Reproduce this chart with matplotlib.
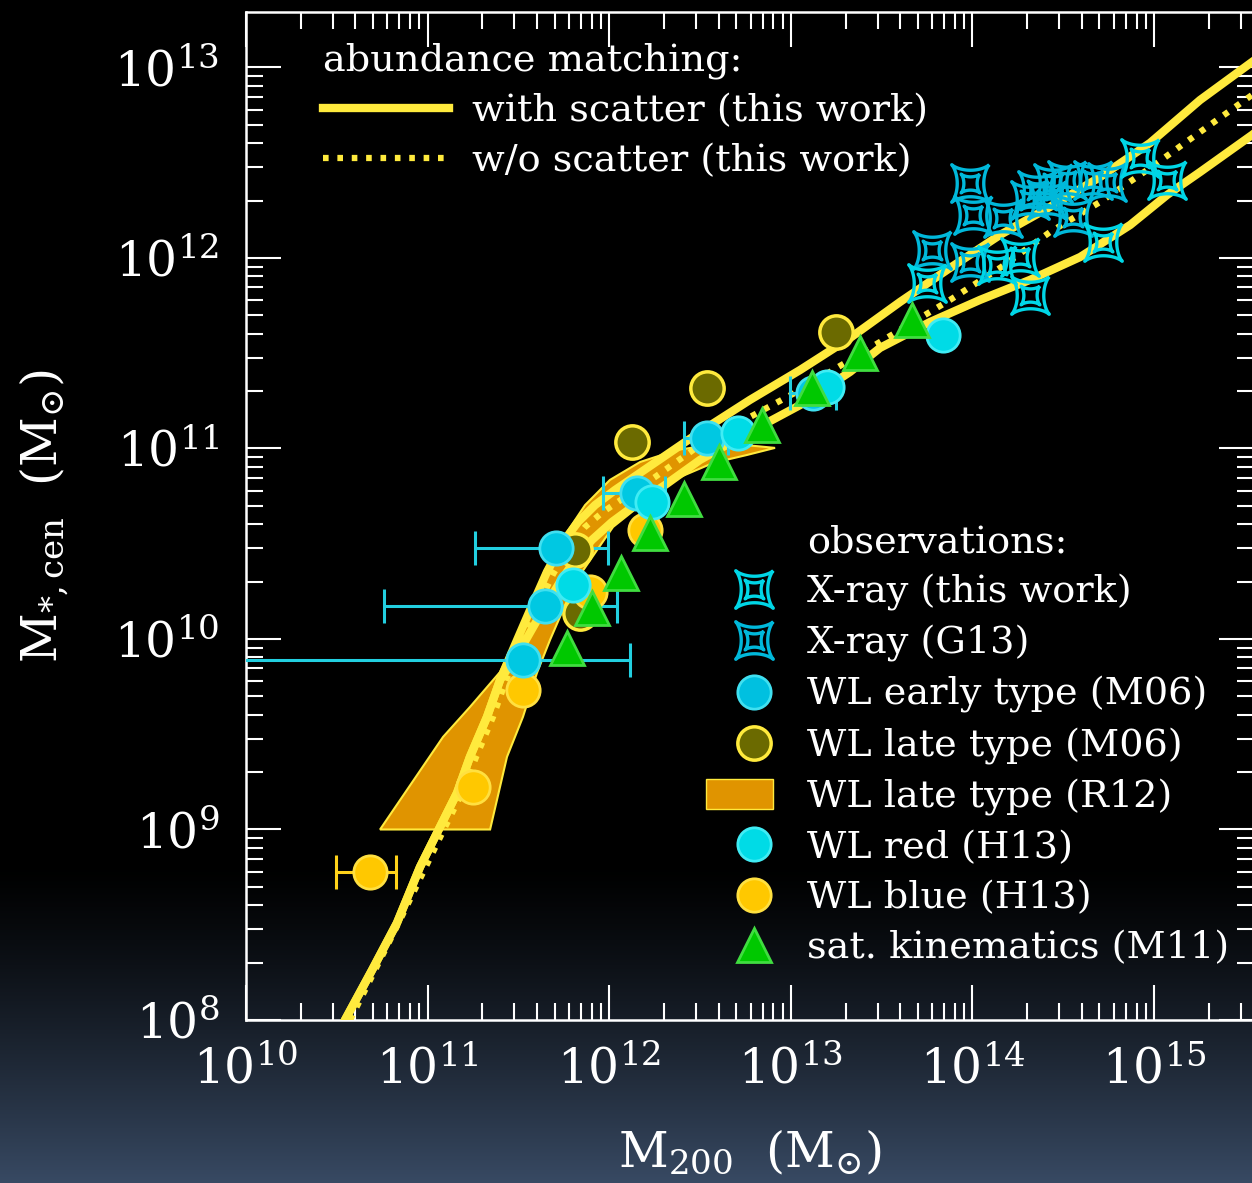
import numpy as np
import matplotlib.pyplot as plt
from matplotlib.path import Path
from matplotlib.lines import Line2D
from matplotlib.patches import Patch, Rectangle, Polygon
from matplotlib.legend_handler import HandlerPatch

plt.rcParams['font.family'] = ['DejaVu Serif']
plt.rcParams['mathtext.fontset'] = 'dejavuserif'

# all values are log10 (M200 / Msun), log10 (M*,cen / Msun)

# abundance matching, with scatter (two solid curves)
am_hi_x = [10.50, 10.545, 10.694, 10.831, 10.958, 11.068, 11.162, 11.233, 11.327, 11.399, 11.481, 11.564,
           11.657, 11.746, 11.828, 11.922, 12.032, 12.225, 12.500, 12.775, 13.051, 13.326, 13.601,
           13.877, 14.152, 14.427, 14.703, 14.978, 15.253, 15.540, 15.60]
am_hi_y = [7.90, 8.0, 8.262, 8.509, 8.803, 9.013, 9.192, 9.381, 9.591, 9.785, 9.969, 10.152,
           10.352, 10.509, 10.614, 10.703, 10.782, 10.908, 11.087, 11.255, 11.412, 11.580, 11.769,
           11.948, 12.121, 12.268, 12.425, 12.604, 12.829, 13.029, 13.07]
am_lo_x = [10.50, 10.545, 10.694, 10.831, 10.958, 11.068, 11.162, 11.233, 11.327, 11.399, 11.509, 11.619,
           11.729, 11.812, 11.905, 12.015, 12.142, 12.307, 12.500, 12.775, 13.051, 13.326, 13.491,
           13.767, 14.042, 14.317, 14.593, 14.868, 15.072, 15.253, 15.540, 15.60]
am_lo_y = [7.90, 8.0, 8.262, 8.509, 8.803, 9.013, 9.192, 9.381, 9.591, 9.785, 9.942, 10.126,
           10.299, 10.415, 10.520, 10.614, 10.703, 10.808, 10.940, 11.087, 11.228, 11.402, 11.528,
           11.664, 11.780, 11.885, 12.005, 12.173, 12.331, 12.451, 12.646, 12.69]

# abundance matching, without scatter (dotted)
am_ns_x = [10.573, 10.848, 11.096, 11.189, 11.267, 11.360, 11.432, 11.514, 11.597, 11.691, 11.784,
           11.867, 11.966, 12.087, 12.252, 12.500, 12.775, 13.051, 13.326, 13.601, 13.877, 14.152,
           14.427, 14.703, 14.978, 15.253, 15.540, 15.60]
am_ns_y = [8.0, 8.525, 9.013, 9.192, 9.381, 9.591, 9.785, 9.969, 10.152, 10.341, 10.493,
           10.588, 10.667, 10.745, 10.850, 11.018, 11.165, 11.307, 11.465, 11.622, 11.780, 11.948,
           12.136, 12.294, 12.472, 12.661, 12.856, 12.90]

# WL late type (R12) band outline
r12_x = [11.344, 11.437, 11.525, 11.602, 11.674, 11.757, 11.839, 11.933, 12.021, 12.208, 12.390,
         12.572, 12.759, 12.913, 12.627, 12.373, 12.170, 12.004, 11.867, 11.757, 11.646, 11.564,
         11.481, 11.399, 11.233, 11.085, 10.738]
r12_y = [9.0, 9.381, 9.591, 9.822, 9.995, 10.178, 10.336, 10.467, 10.588, 10.730, 10.850,
         10.924, 10.966, 11.003, 11.029, 10.992, 10.929, 10.835, 10.703, 10.546, 10.362, 10.178,
         9.995, 9.827, 9.643, 9.486, 9.0]

# X-ray (this work)
xr_x = [13.750, 14.317, 14.719, 15.072, 14.923, 14.262, 14.135]
xr_y = [11.869, 11.806, 12.084, 12.409, 12.525, 12.005, 11.963]
# X-ray (G13)
g13_x = [13.778, 13.987, 14.003, 14.169, 13.987, 14.356, 14.411, 14.444, 14.521, 14.554, 14.664,
         14.741, 14.317]
g13_y = [12.042, 12.394, 12.226, 12.210, 11.979, 12.357, 12.304, 12.394, 12.409, 12.215, 12.409,
         12.399, 12.304]

# WL early type (M06), with x ranges
m06e_x = [11.525, 11.646, 11.707, 12.153, 12.539, 13.122]
m06e_y = [9.890, 10.173, 10.478, 10.766, 11.055, 11.291]
m06e_xlo = [9.80, 10.760, 11.261, 11.966, 12.412, 12.996]
m06e_xhi = [12.115, 12.043, 11.993, 12.307, 12.654, 13.250]

# WL late type (M06)
m06l_x = [12.126, 12.539, 13.249, 11.812, 11.839]
m06l_y = [11.034, 11.318, 11.612, 10.467, 10.136]

# WL red (H13)
h13r_x = [11.801, 12.236, 12.709, 13.199, 13.838]
h13r_y = [10.283, 10.719, 11.081, 11.323, 11.596]

# WL blue (H13)
h13b_x = [10.683, 11.250, 11.525, 11.894, 12.197]
h13b_y = [8.777, 9.223, 9.732, 10.247, 10.572]
h13b_xlo = [10.496, 11.250, 11.525, 11.894, 12.197]
h13b_xhi = [10.826, 11.250, 11.525, 11.894, 12.197]

# satellite kinematics (M11)
m11_x = [11.768, 11.905, 12.065, 12.225, 12.412, 12.605, 12.841, 13.117, 13.381, 13.667]
m11_y = [9.953, 10.163, 10.346, 10.556, 10.735, 10.929, 11.123, 11.318, 11.501, 11.675]


def p10(v):
    return 10 ** np.array(v)


# four pointed star marker, outer + inner outline
t = np.linspace(0, 2 * np.pi, 201)
cx = np.sign(np.cos(t)) * np.abs(np.cos(t)) ** 3.0
cy = np.sign(np.sin(t)) * np.abs(np.sin(t)) ** 3.0
rx = (cx - cy) / np.sqrt(2)
ry = (cx + cy) / np.sqrt(2)
star = Path.make_compound_path(Path(np.c_[rx, ry]), Path(0.5 * np.c_[rx, ry]))

yellow = '#ffea3d'
dots = (0, (0.9, 1.4))

fig = plt.figure(figsize=(12.52, 11.83), dpi=100)
fig.patch.set_facecolor('black')

# dark background fading to slate blue at the bottom
bg = fig.add_axes([0, 0, 1, 1], zorder=-10)
rows = np.arange(1183)
fade = np.clip((rows - 860) / (1183 - 860), 0, 1) ** 1.3
grad = fade[:, None, None] * np.array([0.22, 0.29, 0.39])[None, None, :]
bg.imshow(grad, aspect='auto', extent=[0, 1, 0, 1])
bg.axis('off')

ax = fig.add_axes([246 / 1252, 1 - 1020 / 1183, (1254 - 246) / 1252, 1008 / 1183])
ax.set_facecolor('none')
ax.set_xscale('log')
ax.set_yscale('log')
ax.set_xlim(1e10, 10 ** 15.55)
ax.set_ylim(1e8, 10 ** 13.291)

ax.add_patch(Polygon(np.c_[p10(r12_x), p10(r12_y)], closed=True, facecolor='#e09400',
                     edgecolor=yellow, lw=1.5, zorder=2))
ax.plot(p10(am_hi_x), p10(am_hi_y), color=yellow, lw=6, zorder=3)
ax.plot(p10(am_lo_x), p10(am_lo_y), color=yellow, lw=6, zorder=3)
ax.plot(p10(am_ns_x), p10(am_ns_y), color=yellow, lw=4.5, ls=dots, zorder=3)

# error bars
ax.errorbar(p10(m06e_x), p10(m06e_y),
            xerr=[p10(m06e_x) - p10(m06e_xlo), p10(m06e_xhi) - p10(m06e_x)],
            fmt='none', ecolor='#22cfe0', elinewidth=2.2, capsize=12, capthick=2.2, zorder=4)
ax.errorbar(p10(h13b_x), p10(h13b_y),
            xerr=[p10(h13b_x) - p10(h13b_xlo), p10(h13b_xhi) - p10(h13b_x)],
            fmt='none', ecolor='#ffd21a', elinewidth=2.2, capsize=12, capthick=2.2, zorder=4)

ms = 24
ax.plot(p10(m06l_x), p10(m06l_y), 'o', ms=ms, mfc='#6b6a00', mec=yellow, mew=2.5, zorder=5)
ax.plot(p10(h13b_x), p10(h13b_y), 'o', ms=ms, mfc='#ffc800', mec='#ffe040', mew=2, zorder=5)
ax.plot(p10(m06e_x), p10(m06e_y), 'o', ms=ms, mfc='#00c8e2', mec='#40e0f0', mew=2, zorder=6)
ax.plot(p10(h13r_x), p10(h13r_y), 'o', ms=ms, mfc='#00dbe6', mec='#40ecf4', mew=2, zorder=6)
ax.plot(p10(m11_x), p10(m11_y), '^', ms=25, mfc='#00c800', mec='#40dd40', mew=2, zorder=7)
ax.plot(p10(g13_x), p10(g13_y), ls='none', marker=star, ms=27, mfc='none', mec='#00b8da', mew=2.4, zorder=6)
ax.plot(p10(xr_x), p10(xr_y), ls='none', marker=star, ms=27, mfc='none', mec='#00d6e6', mew=2.4, zorder=6)

for s in ax.spines.values():
    s.set_color('white')
    s.set_linewidth(1.8)
ax.tick_params(which='both', direction='in', top=True, right=True, colors='white',
               labelsize=35, pad=19)
ax.tick_params(which='major', length=25, width=1.5)
ax.tick_params(which='minor', length=12, width=1.5)

ax.set_xlabel(r'$\mathrm{M}_{200}\ \ (\mathrm{M}_{\odot})$', fontsize=35, color='white', labelpad=24)
ax.set_ylabel(r'$\mathrm{M}_{*,\mathrm{cen}}\ \ (\mathrm{M}_{\odot})$', fontsize=35, color='white', labelpad=32)

fs = 27.5
leg1 = ax.legend([Line2D([], [], color=yellow, lw=6),
                  Line2D([], [], color=yellow, lw=4.5, ls=dots)],
                 ['with scatter (this work)', 'w/o scatter (this work)'],
                 title='abundance matching:', alignment='left', title_fontsize=fs, fontsize=fs,
                 loc='upper left', bbox_to_anchor=(0.076, 0.970), frameon=False, borderpad=0,
                 borderaxespad=0, handlelength=3.3, handletextpad=0.6, labelspacing=0.37,
                 labelcolor='white')
leg1.get_title().set_color('white')
ax.add_artist(leg1)


def wide_box(legend, orig_handle, xdescent, ydescent, width, height, fontsize):
    return Rectangle((-xdescent - 0.34 * width, -ydescent - 0.07 * height), 1.17 * width, 1.14 * height)


obs_handles = [Line2D([], [], ls='none'),
               Line2D([], [], ls='none', marker=star, ms=27, mfc='none', mec='#00d6e6', mew=2.4),
               Line2D([], [], ls='none', marker=star, ms=27, mfc='none', mec='#00b8da', mew=2.4),
               Line2D([], [], ls='none', marker='o', ms=24, mfc='#00c0e0', mec='#40e0f0', mew=2),
               Line2D([], [], ls='none', marker='o', ms=24, mfc='#6b6a00', mec=yellow, mew=2.5),
               Patch(facecolor='#e09400', edgecolor=yellow, lw=1),
               Line2D([], [], ls='none', marker='o', ms=24, mfc='#00dbe6', mec='#40ecf4', mew=2),
               Line2D([], [], ls='none', marker='o', ms=24, mfc='#ffc800', mec='#ffe040', mew=2),
               Line2D([], [], ls='none', marker='^', ms=24, mfc='#00c800', mec='#40dd40', mew=2)]
obs_labels = ['observations:', 'X-ray (this work)', 'X-ray (G13)', 'WL early type (M06)',
              'WL late type (M06)', 'WL late type (R12)', 'WL red (H13)', 'WL blue (H13)',
              'sat. kinematics (M11)']
leg2 = ax.legend(obs_handles, obs_labels, fontsize=fs, loc='upper left', bbox_to_anchor=(0.476, 0.492),
                 frameon=False, borderpad=0, borderaxespad=0, handlelength=1.5, handletextpad=0.62,
                 labelspacing=0.37, labelcolor='white',
                 handler_map={Patch: HandlerPatch(patch_func=wide_box)})

fig.savefig('out.png', dpi=100, facecolor=fig.get_facecolor())
